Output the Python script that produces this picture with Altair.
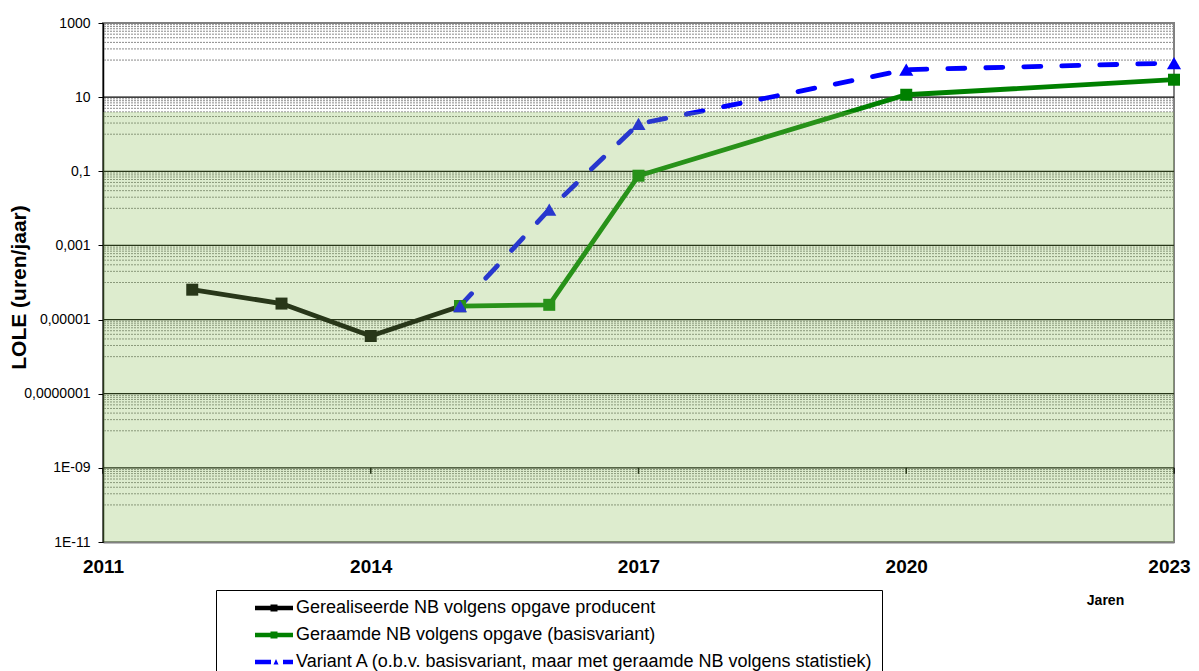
import altair as alt
import pandas as pd

# ---------------- data ----------------
SERIES = [
    "Gerealiseerde NB volgens opgave producent",
    "Geraamde NB volgens opgave (basisvariant)",
    "Variant A (o.b.v. basisvariant, maar met geraamde NB volgens statistiek)",
]
COLORS = ["#000000", "#008000", "#0000FF"]

years_real = [2012, 2013, 2014, 2015]
lole_real = [6.4e-5, 2.7e-5, 3.6e-6, 2.3e-5]

years_base = [2015, 2016, 2017, 2020, 2023]
lole_base = [2.3e-5, 2.5e-5, 0.076, 11.6, 29.5]

years_var = [2015, 2016, 2017, 2020, 2023]
lole_var = [2.3e-5, 0.0093, 1.9, 55.0, 83.0]

X_TICKS = [2011, 2014, 2017, 2020, 2023]
Y_TICKS = [1e-11, 1e-9, 1e-7, 1e-5, 1e-3, 0.1, 10, 1000]
Y_LABELS = ["1E-11", "1E-09", "0,0000001", "0,00001", "0,001", "0,1", "10", "1000"]
MINOR_STEPS = [1, 2, 3, 4, 5, 6, 7, 8, 9]
NORM = 4  # LOLE norm (green zone upper bound)

# legend symbols (line + marker) as custom paths
LEGEND_PATHS = [
    "M-1.9,-0.22L1.9,-0.22L1.9,0.22L-1.9,0.22Z M-0.35,-0.35L0.35,-0.35L0.35,0.35L-0.35,0.35Z",
    "M-1.9,-0.22L1.9,-0.22L1.9,0.22L-1.9,0.22Z M-0.35,-0.35L0.35,-0.35L0.35,0.35L-0.35,0.35Z",
    "M-1.9,-0.22L-0.3,-0.22L-0.3,0.22L-1.9,0.22Z M-0.05,0.25L0.2,-0.3L0.45,0.25Z M0.9,-0.22L1.9,-0.22L1.9,0.22L0.9,0.22Z",
]

FONT = "Liberation Sans"
W, H = 1071, 519

# ---------------- tables ----------------
rows = []
for s, ys, vs in [(0, years_real, lole_real), (1, years_base, lole_base), (2, years_var, lole_var)]:
    for yr, v in zip(ys, vs):
        rows.append({"series": SERIES[s], "year": yr, "value": v, "hex": COLORS[s]})
df = pd.DataFrame(rows)

major_df = pd.DataFrame({"g": Y_TICKS[1:-1]})
minor_df = pd.DataFrame({"g": [m * 10 * k for m in Y_TICKS[:-1] for k in MINOR_STEPS]})
xt_df = pd.DataFrame({"year": X_TICKS, "yb": [Y_TICKS[1]] * len(X_TICKS)})
band_df = pd.DataFrame({"x0": [X_TICKS[0]], "x1": [X_TICKS[-1]], "y0": [Y_TICKS[0]], "y1": [NORM]})
leg_df = pd.DataFrame({"series": SERIES})

xscale = alt.Scale(domain=[X_TICKS[0], X_TICKS[-1]], nice=False, zero=False)
yscale = alt.Scale(type="log", domain=[Y_TICKS[0], Y_TICKS[-1]], nice=False)
cscale = alt.Scale(domain=SERIES, range=COLORS)

label_expr = ""
for t, lab in zip(Y_TICKS[:-1], Y_LABELS[:-1]):
    label_expr += f"datum.value < {t * 3:.3e} ? '{lab}' : "
label_expr += f"'{Y_LABELS[-1]}'"

x_axis = alt.Axis(
    values=X_TICKS, format="d", title="Jaren", grid=False, ticks=False,
    labelFont=FONT, labelFontSize=19, labelFontWeight="bold", labelColor="#000000",
    labelPadding=15, labelFlush=False, labelOverlap=False,
    labelOffset={"condition": {"test": f"datum.value == {X_TICKS[-1]}", "value": -5}, "value": 0},
    domainColor="#808080", domainWidth=2,
    titleFont=FONT, titleFontSize=14, titleFontWeight="bold", titleColor="#000000",
    titleX=1002, titleY=58, titleAlign="center", titleBaseline="middle",
)
y_axis = alt.Axis(
    values=Y_TICKS, labelExpr=label_expr, grid=False,
    tickSize=5, tickColor="#000000", tickWidth=1,
    domainColor="#000000", domainWidth=1.5,
    labelFont=FONT, labelFontSize=14, labelColor="#000000", labelPadding=8,
    labelFlush=False, labelOverlap=False,
    title="LOLE (uren/jaar)", titleFont=FONT, titleFontSize=21, titleFontWeight="bold",
    titleColor="#000000", titleX=-84, titleY=264, titleAngle=270,
    titleAlign="center", titleBaseline="middle",
)

X = lambda f: alt.X(f, scale=xscale, axis=x_axis)
Y = lambda f: alt.Y(f, scale=yscale, axis=y_axis)

minor = alt.Chart(minor_df).mark_rule(color="#8a8a8a", strokeWidth=1, strokeDash=[2, 1]).encode(
    y=Y("g:Q")
)
major = alt.Chart(major_df).mark_rule(color="#000000", strokeWidth=1.3).encode(
    y=Y("g:Q")
)
xticks = alt.Chart(xt_df).mark_rule(color="#000000", strokeWidth=1.5, y2Offset=6).encode(
    x=X("year:Q"), y=Y("yb:Q"), y2="yb:Q"
)
solid_lines = alt.Chart(df).transform_filter(
    alt.FieldOneOfPredicate(field="series", oneOf=SERIES[:2])
).mark_line(strokeWidth=4.8, strokeCap="round").encode(
    x=X("year:Q"), y=Y("value:Q"),
    color=alt.Color("hex:N", scale=None),
    detail="series:N",
)
dashed_line = alt.Chart(df).transform_filter(
    alt.FieldEqualPredicate(field="series", equal=SERIES[2])
).mark_line(strokeWidth=4.8, strokeCap="round", strokeDash=[17, 21]).encode(
    x=X("year:Q"), y=Y("value:Q"),
    color=alt.Color("hex:N", scale=None),
)
squares = alt.Chart(df).transform_filter(
    alt.FieldOneOfPredicate(field="series", oneOf=SERIES[:2])
).mark_point(shape="square", filled=True, size=144, opacity=1).encode(
    x=X("year:Q"), y=Y("value:Q"),
    color=alt.Color("hex:N", scale=None),
)
triangles = alt.Chart(df).transform_filter(
    alt.FieldEqualPredicate(field="series", equal=SERIES[2])
).mark_point(shape="triangle-up", filled=True, size=200, opacity=1).encode(
    x=X("year:Q"), y=Y("value:Q"),
    color=alt.Color("hex:N", scale=None),
)
overlay = alt.Chart(band_df).mark_rect(color="#8abe56", opacity=0.29).encode(
    x=X("x0:Q"), x2="x1:Q", y=Y("y0:Q"), y2="y1:Q",
)

legend_def = dict(
    orient="none", legendX=113, legendY=567, direction="vertical",
    labelFont=FONT, labelFontSize=18, labelColor="#000000", labelLimit=2000,
    labelExpr="datum.label + '" + "\u00a0" * 8 + "'",
    symbolSize=400, symbolOffset=40, labelOffset=12, padding=8, rowPadding=8,
    strokeColor="#000000", fillColor="#ffffff", symbolStrokeWidth=0,
)
legend_layer = alt.Chart(leg_df).mark_point(filled=True, opacity=0, size=400).encode(
    color=alt.Color("series:N", scale=cscale, title="", legend=alt.Legend(**legend_def)),
    shape=alt.Shape("series:N", scale=alt.Scale(domain=SERIES, range=LEGEND_PATHS),
                    title="", legend=alt.Legend(**legend_def)),
)

chart = alt.layer(
    minor, major, xticks, solid_lines, dashed_line, squares, triangles, overlay, legend_layer
).properties(
    width=W, height=H,
    autosize="none",
    padding={"left": 95, "top": 15, "right": 17, "bottom": 129},
    background="#ffffff",
).configure_view(stroke="#808080", strokeWidth=2)

chart.save("out.html", embed_options={"renderer": "svg", "actions": False})
